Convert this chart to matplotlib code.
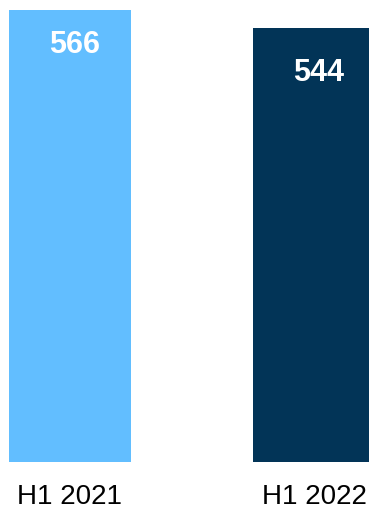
import matplotlib
matplotlib.use('Agg')
import matplotlib.pyplot as plt

plt.rcParams['font.family'] = ['Liberation Sans', 'DejaVu Sans']

# Half-year totals
periods = ['H1 2021', 'H1 2022']
values = [566, 544]
colors = ['#62BEFF', '#023457']

# Value label offsets from the bar top, in points
label_dy = [-25.5, -32.5]


def main():
    fig = plt.figure(figsize=(3.69, 5.09), dpi=100)
    ax = fig.add_axes([0, 47 / 509, 1, 452 / 509])

    x = range(len(values))
    bars = ax.bar(x, values, width=0.5, color=colors)

    for bar, v, dy in zip(bars, values, label_dy):
        ax.annotate(str(v), (bar.get_x() + bar.get_width() / 2, v),
                    xytext=(3.5, dy), textcoords='offset points',
                    ha='center', va='center', color='white',
                    fontsize=22, fontweight='bold')

    ax.set_xlim(-70 / 244, 1 + 55 / 244)
    ax.set_ylim(0, max(values))
    ax.set_xticks(list(x), periods, fontsize=20)
    ax.tick_params(axis='x', length=0, pad=16)
    ax.set_yticks([])
    for s in ax.spines.values():
        s.set_visible(False)

    fig.savefig('out.png', dpi=100)


if __name__ == "__main__":
    main()
